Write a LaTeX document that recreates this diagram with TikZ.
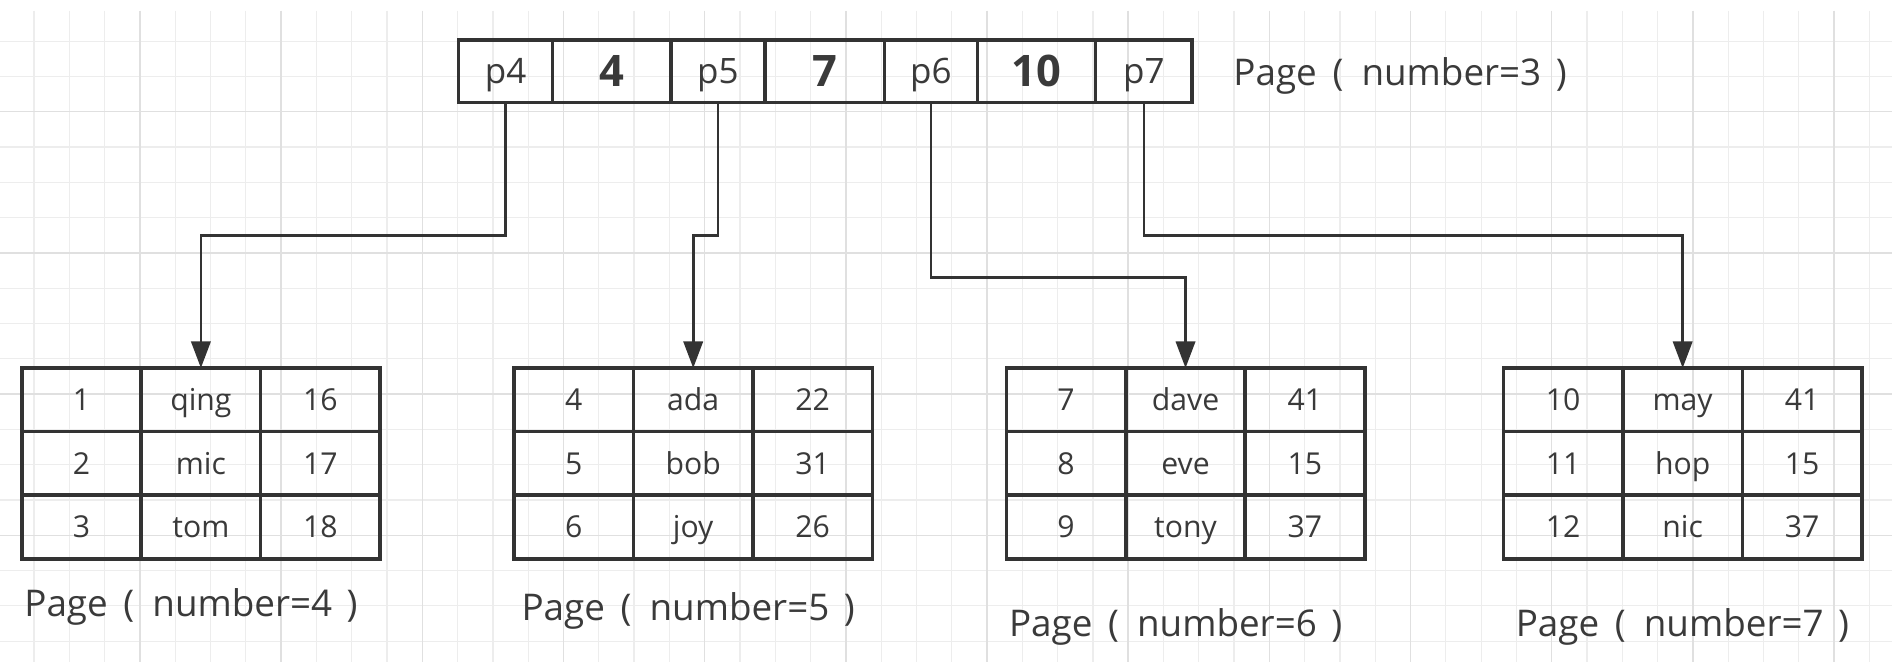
\documentclass[tikz,border=0pt]{standalone}
\usepackage{fontspec}
\setmainfont{Open Sans}
\usetikzlibrary{arrows.meta}
\definecolor{ink}{HTML}{333333}
\definecolor{txt}{HTML}{3A3A3A}
\definecolor{gminor}{HTML}{EDEDED}
\definecolor{gmajor}{HTML}{E0E0E0}
\tikzset{
  cell/.style={draw=ink, line width=3pt, minimum width=99pt, minimum height=52.7pt,
    inner sep=0pt, outer sep=0pt, text=txt, font=\fontsize{25}{28}\selectfont,
    text height=17.85pt, text depth=0pt},
  topcell/.style={draw=ink, line width=3pt, minimum height=52pt, inner sep=0pt,
    outer sep=0pt, text=txt, font=\fontsize{29}{34}\selectfont,
    text height=20.7pt, text depth=0pt},
  keycell/.style={topcell, font=\fontsize{36}{40}\selectfont\bfseries,
    text height=25.7pt},
  pagelabel/.style={anchor=west, inner sep=0pt, text=txt, font=\fontsize{30.5}{34}\selectfont,
    text height=21.8pt, text depth=0pt},
  conn/.style={draw=ink, line width=2.2pt, -{Triangle[length=22pt,width=16pt]}},
}
\newcommand\pagetab[3]{%
  \foreach \r/\a/\b/\c in {#3} {
    \node[cell] (#1-\r-1) at ({#2+49.5},{278.67+52.67*\r}) {\a};
    \node[cell] (#1-\r-2) at ({#2+148.5},{278.67+52.67*\r}) {\b};
    \node[cell] (#1-\r-3) at ({#2+247.5},{278.67+52.67*\r}) {\c};
  }}
\newcommand\pglabel[1]{Page\hspace{13pt}(\hspace{15pt}number=#1\hspace{12pt})}
\begin{document}
\begin{tikzpicture}[x=1pt,y=-1pt]
\useasboundingbox (0,0) rectangle (1568,549);
\fill[white] (0,0) rectangle (1568,549);
% background grid
\foreach \i in {0,...,53} {
  \draw[gminor, line width=1pt] ({28.25+29.25*\i},9) -- ({28.25+29.25*\i},549);
}
\foreach \j in {1,...,18} {
  \draw[gminor, line width=1pt] (0,{4.85+29.25*\j}) -- (1568,{4.85+29.25*\j});
}
\foreach \i in {0,...,13} {
  \draw[gmajor, line width=1.2pt] ({116+117*\i},9) -- ({116+117*\i},549);
}
\foreach \j in {0,...,4} {
  \draw[gmajor, line width=1.2pt] (0,{92.6+117*\j}) -- (1568,{92.6+117*\j});
}
% root page
\node[topcell, minimum width=78pt] (p4) at (419,59) {p4};
\node[keycell, minimum width=98pt] (k4) at (507,59) {4};
\node[topcell, minimum width=78pt] (p5) at (595,59) {p5};
\node[keycell, minimum width=99pt] (k7) at (683.5,59) {7};
\node[topcell, minimum width=77pt] (p6) at (771.5,59) {p6};
\node[keycell, minimum width=98pt] (k10) at (859,59) {10};
\node[topcell, minimum width=80pt] (p7) at (948,59) {p7};
\node[pagelabel] (l3) at (1022,60) {\pglabel{3}};
% leaf pages
\pagetab{ta}{18}{1/1/qing/16, 2/2/mic/17, 3/3/tom/18}
\pagetab{tb}{426}{1/4/ada/22, 2/5/bob/31, 3/6/joy/26}
\pagetab{tc}{834}{1/7/dave/41, 2/8/eve/15, 3/9/tony/37}
\pagetab{td}{1246}{1/10/may/41, 2/11/hop/15, 3/12/nic/37}
\node[pagelabel] (l4) at (20,500) {\pglabel{4}};
\node[pagelabel] (l5) at (432,503) {\pglabel{5}};
\node[pagelabel] (l6) at (836,517) {\pglabel{6}};
\node[pagelabel] (l7) at (1256,517) {\pglabel{7}};
% connectors
\draw[conn] (p4.south) -- ++(0,110) -| (ta-1-2.north);
\draw[conn] (p5.south) -- ++(0,110) -| (tb-1-2.north);
\draw[conn] (p6.south) -- ++(0,145) -| (tc-1-2.north);
\draw[conn] (p7.south) -- ++(0,110) -| (td-1-2.north);
\end{tikzpicture}
\end{document}
